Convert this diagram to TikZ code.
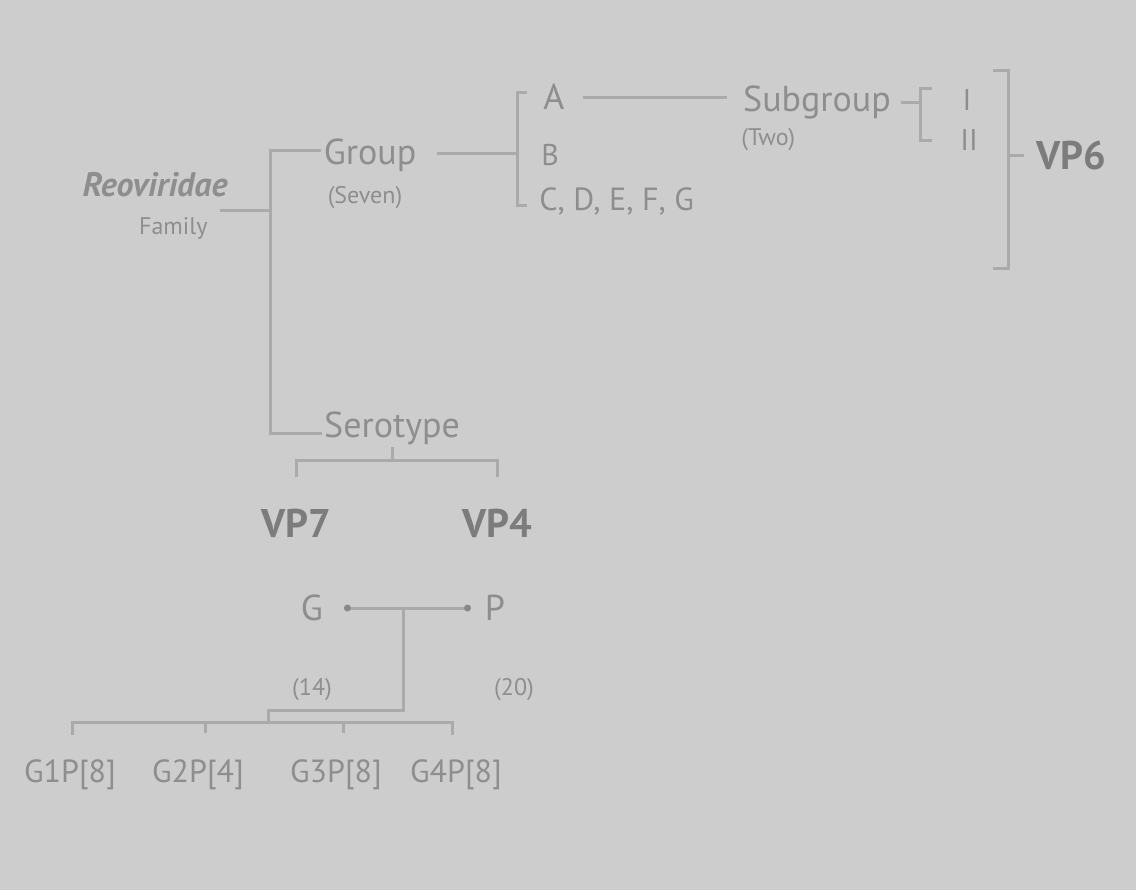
\documentclass[tikz,border=0pt]{standalone}
\usepackage{fontspec}
\setmainfont{PT Sans}
\usetikzlibrary{positioning,calc}
\definecolor{bggray}{HTML}{CDCDCD}
\definecolor{txtgray}{HTML}{8E8E8E}
\definecolor{vpgray}{HTML}{7C7C7C}
\definecolor{lngray}{HTML}{AAAAAA}
\tikzset{
  lbl/.style={text=txtgray,inner sep=1pt,font=\fontsize{18}{20}\selectfont},
  sublbl/.style={text=txtgray,inner sep=1pt,font=\fontsize{12}{14}\selectfont},
  vplbl/.style={text=vpgray,inner sep=1pt,font=\bfseries\fontsize{20}{22}\selectfont},
  leaf/.style={text=txtgray,inner sep=1pt,font=\fontsize{16}{18}\selectfont},
  conn/.style={draw=lngray,line width=1.5pt}
}
\begin{document}
\begin{tikzpicture}[x=0.5pt,y=-0.5pt]
        \fill[bggray] (0,0) rectangle (1136,890);
        \useasboundingbox (0,0) rectangle (1136,890);
        % family and group
        \node[lbl,font=\itshape\bfseries\fontsize{17}{19}\selectfont] (reo) at (155,185) {Reoviridae};
        \node[sublbl,anchor=east] (fam) at (210,228) {Family};
        \node[lbl] (grp) at (370,155) {Group};
        \node[sublbl] (seven) at (365,198) {(Seven)};
        \node[lbl] (sero) at (392,428) {Serotype};
        \coordinate (famR) at (270,210);
        \draw[conn] (220,210) -- (famR);
        \draw[conn] (grp.west |- 0,150) -| (famR) |- (sero.west |- 0,433);
        % groups A to G
        \node[lbl,anchor=west] (ga) at (541,97) {A};
        \node[lbl,anchor=west,font=\fontsize{15}{17}\selectfont] (gb) at (539,155) {B};
        \node[lbl,anchor=west,font=\fontsize{16}{18}\selectfont] (gc) at (537,201) {C, D, E, F, G};
        \draw[conn] ($(grp.east |- 0,153)+(18,0)$) -- (517,153);
        \draw[conn] (527,92) -- (517,92) -- (517,205) -- (527,205);
        % subgroups
        \node[lbl] (subg) at (817,102) {Subgroup};
        \node[sublbl,anchor=west] (two) at (739,140) {(Two)};
        \draw[conn,shorten <=8pt,shorten >=7pt] (ga.east) -- (subg.west |- ga.east);
        \node[lbl,font=\fontsize{15}{17}\selectfont] (s1) at (967,100) {I};
        \node[lbl,font=\fontsize{15}{17}\selectfont] (s2) at (969,140) {II};
        \draw[conn] ($(subg.east)+(8,0)$) -- (920,102);
        \draw[conn] (932,88) -- (920,88) -- (920,140) -- (932,140);
        \node[vplbl] (vp6) at (1071,155) {VP6};
        \draw[conn] (993,70) -- (1008,70) -- (1008,268) -- (993,268);
        \draw[conn] (1008,155) -- ($(vp6.west)+(-10,0)$);
        % serotype split
        \node[vplbl] (vp7) at (296,523) {VP7};
        \node[vplbl] (vp4) at (497,523) {VP4};
        \draw[conn] (sero.south) -- (392,460);
        \draw[conn] (vp7.north |- 0,477) |- (392,460) -| (vp4.north |- 0,477);
        % genotypes
        \node[lbl] (gg) at (312,608) {G};
        \node[lbl] (pp) at (495,608) {P};
        \node[sublbl] (n14) at (312,690) {(14)};
        \node[sublbl] (n20) at (514,690) {(20)};
        \coordinate (gE) at ($(gg.east)+(22,0)$);
        \coordinate (pW) at ($(pp.west)+(-15,0)$);
        \draw[conn] (gE) -- (pW);
        \fill[lngray!80!black] (gE) circle (3.5);
        \fill[lngray!80!black] (pW) circle (3.5);
        % combinations
        \node[leaf] (c1) at (70,775) {G1P[8]};
        \node[leaf] (c2) at (198,775) {G2P[4]};
        \node[leaf] (c3) at (336,775) {G3P[8]};
        \node[leaf] (c4) at (456,775) {G4P[8]};
        \draw[conn] (403,608) -- (403,710) -- (268,710) -- (268,722);
        \draw[conn] (72,735) -- (72,722) -- (452,722) -- (452,735);
        \draw[conn] (205,722) -- (205,733);
        \draw[conn] (343,722) -- (343,733);
\end{tikzpicture}
\end{document}
